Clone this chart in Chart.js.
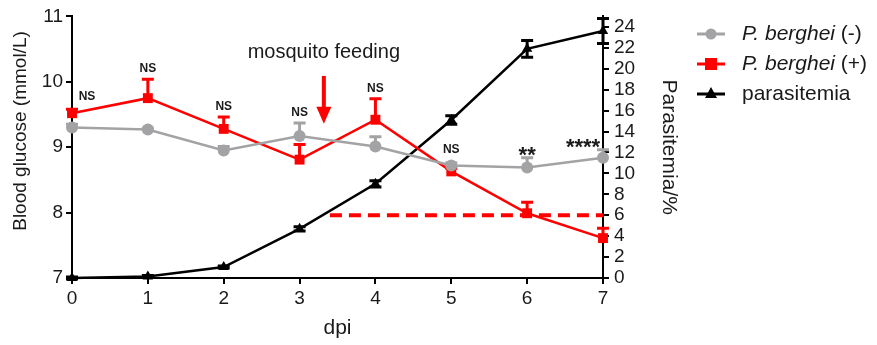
<!DOCTYPE html>
<html>
<head>
<meta charset="utf-8">
<script src="https://cdn.jsdelivr.net/npm/chart.js@4.4.0/dist/chart.umd.min.js"></script>
<style>
  html, body { margin: 0; padding: 0; background: #fff; }
</style>
</head>
<body>
<canvas id="chart" width="877" height="345"></canvas>
<script>
// values
const days = [0, 1, 2, 3, 4, 5, 6, 7];
const glucoseNeg = [9.30, 9.27, 8.95, 9.17, 9.01, 8.72, 8.69, 8.84];
const glucoseNegErr = [0.05, 0.02, 0.06, 0.20, 0.15, 0.04, 0.15, 0.12];
const glucosePos = [9.52, 9.75, 9.28, 8.81, 9.42, 8.63, 7.99, 7.61];
const glucosePosErr = [0.06, 0.29, 0.18, 0.23, 0.32, 0.05, 0.17, 0.15];
const parasitemia = [0, 0.15, 1.05, 4.7, 9.0, 15.1, 21.9, 23.6];
const parasitemiaErr = [0.1, 0.1, 0.1, 0.2, 0.3, 0.4, 0.8, 1.2];
const sigLabels = ['NS', 'NS', 'NS', 'NS', 'NS', 'NS', '**', '****'];
const thresholdDays = [3.4, 7];
const thresholdValue = 6;
const feedingDay = 3.32;
const glucoseTicks = [7, 8, 9, 10, 11];
const parasitemiaTicks = [0, 2, 4, 6, 8, 10, 12, 14, 16, 18, 20, 22, 24];

const GREY = '#a3a3a5';
const RED = '#ff0000';
const INK = '#1a1a1a';
const FONT = 'Liberation Sans, Arial, sans-serif';

function pts(vals) {
  return days.map((d, i) => ({ x: d, y: vals[i] }));
}

// error bars, significance labels, arrow, left title and legend
const extras = {
  id: 'extras',
  beforeDatasetDraw(chart, args) {
    const ds = chart.data.datasets[args.index];
    if (!ds.errorBars) return;
    const ctx = chart.ctx;
    const xs = chart.scales.x;
    const ys = chart.scales[ds.yAxisID];
    ctx.save();
    ctx.strokeStyle = ds.borderColor;
    ctx.lineWidth = 3;
    ds.data.forEach((p, i) => {
      const px = xs.getPixelForValue(p.x);
      const py = ys.getPixelForValue(p.y);
      const top = ys.getPixelForValue(p.y + ds.errorBars[i]);
      const bot = ys.getPixelForValue(p.y - ds.errorBars[i]);
      ctx.beginPath();
      ctx.moveTo(px, ds.errorBoth ? bot : py);
      ctx.lineTo(px, top);
      ctx.moveTo(px - 6, top);
      ctx.lineTo(px + 6, top);
      if (ds.errorBoth) {
        ctx.moveTo(px - 6, bot);
        ctx.lineTo(px + 6, bot);
      }
      ctx.stroke();
    });
    ctx.restore();
  },
  afterDraw(chart) {
    const ctx = chart.ctx;
    const xs = chart.scales.x;
    const ys = chart.scales.y;
    ctx.save();
    ctx.fillStyle = INK;
    ctx.textAlign = 'center';

    // significance marks above the higher error bar
    sigLabels.forEach((lab, i) => {
      const px = xs.getPixelForValue(days[i]);
      const topNeg = Math.min(ys.getPixelForValue(glucoseNeg[i] + glucoseNegErr[i]), ys.getPixelForValue(glucoseNeg[i]) - 6);
      const topPos = Math.min(ys.getPixelForValue(glucosePos[i] + glucosePosErr[i]), ys.getPixelForValue(glucosePos[i]) - 6);
      const top = Math.min(topNeg, topPos);
      let dx = 0;
      if (i === 0) dx = 15;
      if (i === days.length - 1) dx = -20;
      ctx.textBaseline = 'alphabetic';
      if (lab === 'NS') {
        ctx.font = 'bold 12px ' + FONT;
        ctx.fillText(lab, px + dx, top - 7);
      } else {
        ctx.font = 'bold 22px ' + FONT;
        ctx.fillText(lab, px + dx, top + 4);
      }
    });

    // mosquito feeding arrow
    const ax = xs.getPixelForValue(feedingDay);
    const aTop = ys.getPixelForValue(10.09);
    const aTip = ys.getPixelForValue(9.36);
    ctx.strokeStyle = RED;
    ctx.fillStyle = RED;
    ctx.lineWidth = 4;
    ctx.beginPath();
    ctx.moveTo(ax, aTop);
    ctx.lineTo(ax, aTip - 14);
    ctx.stroke();
    ctx.beginPath();
    ctx.moveTo(ax - 7.5, aTip - 17);
    ctx.lineTo(ax + 7.5, aTip - 17);
    ctx.lineTo(ax, aTip);
    ctx.closePath();
    ctx.fill();

    ctx.fillStyle = INK;
    ctx.font = '20px ' + FONT;
    ctx.textBaseline = 'middle';
    ctx.fillText('mosquito feeding', ax, ys.getPixelForValue(10.45));

    // left axis title
    ctx.save();
    ctx.font = '19px ' + FONT;
    ctx.translate(21, 131);
    ctx.rotate(-Math.PI / 2);
    ctx.fillText('Blood glucose (mmol/L)', 0, 0);
    ctx.restore();

    // legend
    const items = [
      { color: GREY, shape: 'circle', italic: 'P. berghei', rest: ' (-)', y: 34 },
      { color: RED, shape: 'rect', italic: 'P. berghei', rest: ' (+)', y: 64 },
      { color: '#000', shape: 'triangle', italic: '', rest: 'parasitemia', y: 94 }
    ];
    items.forEach(it => {
      ctx.strokeStyle = it.color;
      ctx.fillStyle = it.color;
      ctx.lineWidth = 3;
      ctx.beginPath();
      ctx.moveTo(697, it.y);
      ctx.lineTo(725, it.y);
      ctx.stroke();
      ctx.beginPath();
      if (it.shape === 'circle') {
        ctx.arc(711, it.y, 5.5, 0, Math.PI * 2);
      } else if (it.shape === 'rect') {
        ctx.rect(705, it.y - 6, 12, 12);
      } else {
        ctx.moveTo(711, it.y - 7);
        ctx.lineTo(717, it.y + 4);
        ctx.lineTo(705, it.y + 4);
        ctx.closePath();
      }
      ctx.fill();
      ctx.fillStyle = INK;
      ctx.textAlign = 'left';
      ctx.textBaseline = 'middle';
      let tx = 742;
      if (it.italic) {
        ctx.font = 'italic 21px ' + FONT;
        ctx.fillText(it.italic, tx, it.y);
        tx += ctx.measureText(it.italic).width;
      }
      ctx.font = '21px ' + FONT;
      ctx.fillText(it.rest, tx, it.y);
    });
    ctx.restore();
  }
};

const axisGrid = { drawOnChartArea: false, drawTicks: true, tickLength: 6, color: '#000', lineWidth: 2 };
const axisBorder = { display: true, color: '#000', width: 2 };
const tickFont = { family: FONT, size: 19 };
const titleFont = { family: FONT, size: 21 };

new Chart(document.getElementById('chart'), {
  type: 'line',
  data: {
    datasets: [
      {
        label: 'P. berghei (-)',
        data: pts(glucoseNeg),
        yAxisID: 'y',
        borderColor: GREY,
        backgroundColor: GREY,
        borderWidth: 2.5,
        pointStyle: 'circle',
        pointRadius: 6,
        pointBorderWidth: 0,
        errorBars: glucoseNegErr,
        clip: false
      },
      {
        label: 'P. berghei (+)',
        data: pts(glucosePos),
        yAxisID: 'y',
        borderColor: RED,
        backgroundColor: RED,
        borderWidth: 2.5,
        pointStyle: 'rect',
        pointRadius: 7,
        pointBorderWidth: 0,
        errorBars: glucosePosErr,
        clip: false
      },
      {
        label: 'parasitemia',
        data: pts(parasitemia),
        yAxisID: 'y2',
        borderColor: '#000',
        backgroundColor: '#000',
        borderWidth: 2.5,
        pointStyle: 'triangle',
        pointRadius: 6,
        pointBorderWidth: 0,
        errorBars: parasitemiaErr,
        errorBoth: true,
        clip: false
      },
      {
        label: 'threshold',
        data: thresholdDays.map(d => ({ x: d, y: thresholdValue })),
        yAxisID: 'y2',
        borderColor: RED,
        borderWidth: 4,
        borderDash: [12, 7],
        pointRadius: 0,
        clip: false
      }
    ]
  },
  options: {
    responsive: false,
    animation: false,
    devicePixelRatio: 1,
    layout: { padding: { top: 15, right: 192, bottom: 0, left: 0 } },
    plugins: { legend: { display: false }, tooltip: { enabled: false } },
    scales: {
      x: {
        type: 'linear',
        min: 0,
        max: 7,
        ticks: { stepSize: 1, font: tickFont, color: INK, padding: 3 },
        grid: axisGrid,
        border: axisBorder,
        title: { display: true, text: 'dpi', font: titleFont, color: INK },
        afterFit(s) { s.height = 67; }
      },
      y: {
        position: 'left',
        min: 7,
        max: 11,
        afterBuildTicks(s) { s.ticks = glucoseTicks.map(v => ({ value: v })); },
        ticks: { font: tickFont, color: INK, padding: 3 },
        grid: axisGrid,
        border: axisBorder,
        afterFit(s) { s.width = 72; }
      },
      y2: {
        position: 'right',
        min: 0,
        max: 25,
        afterBuildTicks(s) { s.ticks = parasitemiaTicks.map(v => ({ value: v })); },
        ticks: { font: tickFont, color: INK, padding: 5, autoSkip: false },
        grid: axisGrid,
        border: axisBorder,
        title: { display: true, text: 'Parasitemia/%', font: titleFont, color: INK },
        afterFit(s) { s.width = 82; }
      }
    }
  },
  plugins: [extras]
});
</script>
</body>
</html>
